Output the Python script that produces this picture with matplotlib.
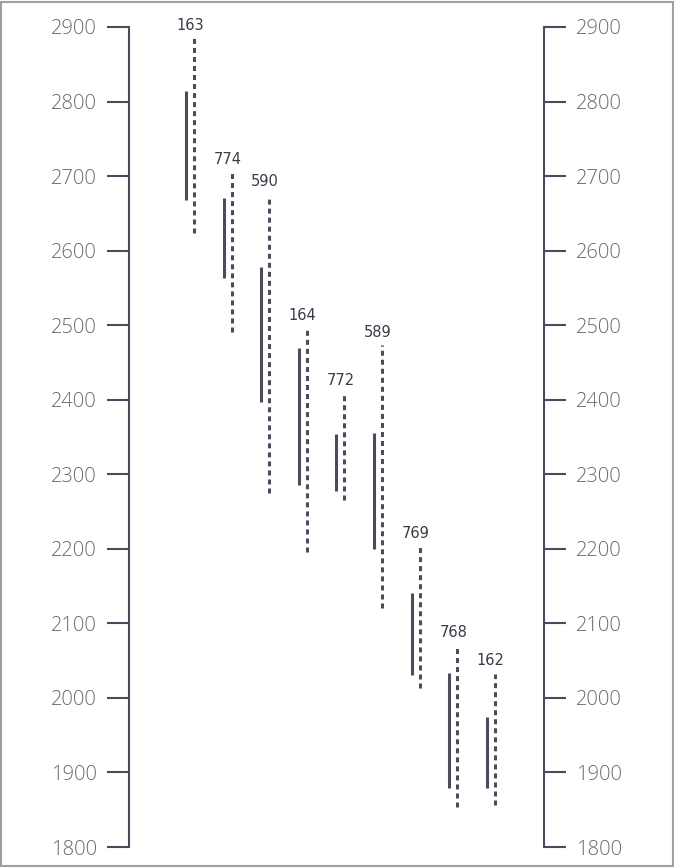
import matplotlib
matplotlib.use("Agg")
import matplotlib.pyplot as plt
from matplotlib.patches import Rectangle

# values
labels = ["163", "774", "590", "164", "772", "589", "769", "768", "162"]
solid_top = [2814, 2671, 2578, 2469, 2354, 2355, 2141, 2033, 1975]
solid_bottom = [2668, 2563, 2397, 2286, 2277, 2200, 2031, 1879, 1879]
dotted_top = [2885, 2705, 2675, 2496, 2408, 2473, 2203, 2070, 2032]
dotted_bottom = [2624, 2491, 2275, 2196, 2265, 2121, 2013, 1854, 1856]
yticks = list(range(1800, 3000, 100))

ink = "#4b4b5c"
txt = "#6a6a6a"
plt.rcParams["lines.scale_dashes"] = False

fig = plt.figure(figsize=(6.74, 8.68), dpi=100)
ax = fig.add_axes([129 / 674, 1 - 847 / 868, 415 / 674, 820 / 868])
ax2 = ax.twinx()

off = 0.106
for i, lab in enumerate(labels):
    ax.vlines(i - off, solid_bottom[i], solid_top[i], color=ink, lw=2.2)
    ax.plot([i + off, i + off], [dotted_bottom[i], dotted_top[i]], color=ink,
            lw=2.2, linestyle=(0, (3.6, 2.9)), solid_capstyle="butt",
            dash_capstyle="butt")
    ax.annotate(lab, (i, dotted_top[i]), xytext=(0, 4), textcoords="offset points",
                ha="center", va="bottom", fontsize=10.5, color="#3a3a48",
                family="DejaVu Sans")

ax.set_xlim(-1.622, 9.415)
for a in (ax, ax2):
    a.set_ylim(1800, 2900)
    a.set_yticks(yticks)
    a.set_xticks([])
    for s in a.spines.values():
        s.set_visible(False)
    a.tick_params(axis="y", length=16, width=1.5, color=ink, pad=7,
                  labelsize=14.5, labelcolor=txt)
    for t in a.get_yticklabels():
        t.set_family("Open Sans")
        t.set_fontweight("light")

ax.spines["left"].set_visible(True)
ax.spines["left"].set_color(ink)
ax.spines["left"].set_linewidth(1.5)
ax2.spines["right"].set_visible(True)
ax2.spines["right"].set_color(ink)
ax2.spines["right"].set_linewidth(1.5)

fig.patches.append(Rectangle((0.002, 0.002), 0.996, 0.996, transform=fig.transFigure,
                             fill=False, edgecolor="#a0a0a0", lw=1.5))

fig.savefig("out.png", dpi=100)
